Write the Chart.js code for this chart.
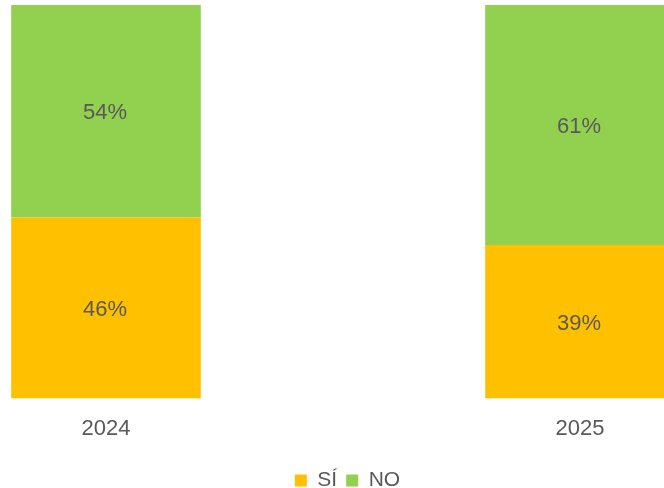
<!DOCTYPE html>
<html>
<head>
<meta charset="utf-8">
<script src="https://cdn.jsdelivr.net/npm/chart.js@4"></script>
<style>
  html, body { margin: 0; padding: 0; background: #fff; overflow: hidden; }
  body { width: 664px; height: 488px; position: relative; }
  #wrap { position: absolute; left: -131px; top: 0; width: 957px; height: 501px; }
</style>
</head>
<body>
<div id="wrap"><canvas id="chart"></canvas></div>
<script>
const years = ['2024', '2025'];
const siValues = [46, 39];
const noValues = [54, 61];

const textColor = '#595959';
const fontFamily = '"Liberation Sans", Arial, sans-serif';

// etiquetas de porcentaje en el centro de cada segmento
const pctLabels = {
  id: 'pctLabels',
  afterDatasetsDraw(chart) {
    const ctx = chart.ctx;
    ctx.save();
    ctx.font = '22px ' + fontFamily;
    ctx.fillStyle = textColor;
    ctx.textAlign = 'center';
    ctx.textBaseline = 'middle';
    chart.data.datasets.forEach((ds, i) => {
      chart.getDatasetMeta(i).data.forEach((bar, j) => {
        const p = bar.getProps(['x', 'y', 'base'], true);
        ctx.fillText(ds.data[j] + '%', p.x - 1, (p.y + p.base) / 2 + 2);
      });
    });
    ctx.restore();
  }
};

new Chart(document.getElementById('chart'), {
  type: 'bar',
  data: {
    labels: years,
    datasets: [
      { label: 'SÍ', data: siValues, backgroundColor: '#FFC000' },
      { label: 'NO', data: noValues, backgroundColor: '#92D050' }
    ]
  },
  options: {
    responsive: true,
    maintainAspectRatio: false,
    animation: false,
    layout: { padding: { top: 5, left: 0, right: 0, bottom: 0 } },
    datasets: { bar: { categoryPercentage: 1, barPercentage: 0.4, borderWidth: 0 } },
    scales: {
      x: {
        stacked: true,
        grid: { display: false },
        border: { display: false },
        ticks: { color: textColor, padding: 9, font: { size: 22, family: fontFamily } },
        title: { display: true, text: ' ', font: { size: 5 }, padding: { top: 0, bottom: 4 } }
      },
      y: {
        stacked: true, min: 0, max: 100,
        position: 'right',
        ticks: { display: false },
        grid: { display: false },
        border: { display: false },
        afterFit(scale) { scale.width = 9; }
      }
    },
    plugins: {
      tooltip: { enabled: false },
      legend: {
        position: 'bottom',
        labels: {
          color: textColor,
          boxWidth: 12,
          boxHeight: 12,
          padding: 9,
          font: { size: 21, family: fontFamily }
        }
      }
    }
  },
  plugins: [pctLabels]
});
</script>
</body>
</html>
